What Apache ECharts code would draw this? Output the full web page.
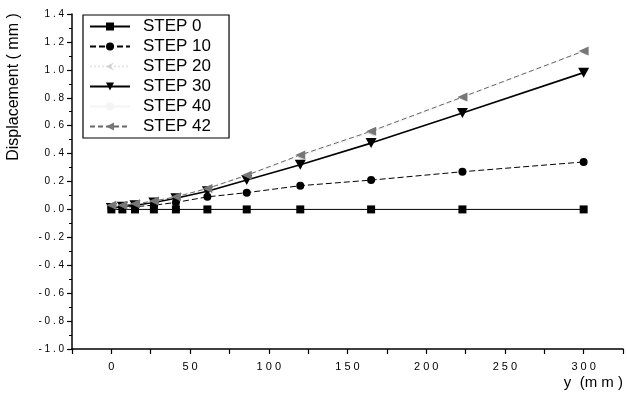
<!DOCTYPE html>
<html><head><meta charset="utf-8">
<script src="https://cdn.jsdelivr.net/npm/echarts@6/dist/echarts.min.js"></script>
<style>html,body{margin:0;padding:0;background:#fff}#c{width:627px;height:399px}</style>
</head><body><div id="c"></div>
<script>
const yPos = [0, 7, 15, 27, 41, 61, 86, 120, 165, 223, 300];
const step0 = [0, 0, 0, 0, 0, 0, 0, 0, 0, 0, 0];
const step10 = [0.01, 0.015, 0.02, 0.03, 0.05, 0.09, 0.12, 0.17, 0.21, 0.27, 0.34];
const step20 = [0.03, 0.03, 0.04, 0.06, 0.09, 0.15, 0.24, 0.38, 0.55, 0.8, 1.13];
const step30 = [0.01, 0.02, 0.03, 0.05, 0.08, 0.13, 0.21, 0.32, 0.475, 0.69, 0.98];
const step40 = [0.03, 0.03, 0.04, 0.06, 0.09, 0.15, 0.245, 0.385, 0.56, 0.805, 1.135];
const step42 = [0.03, 0.03, 0.04, 0.06, 0.09, 0.15, 0.245, 0.39, 0.56, 0.805, 1.135];
const seriesNames = ['STEP 0', 'STEP 10', 'STEP 20', 'STEP 30', 'STEP 40', 'STEP 42'];

const pair = arr => yPos.map((x, i) => [x, arr[i]]);
const font = 'Liberation Sans, Arial, sans-serif';
const chart = echarts.init(document.getElementById('c'), null, {renderer: 'canvas'});
chart.setOption({
  animation: false,
  backgroundColor: '#fff',
  grid: {left: 72, right: 4, top: 14, bottom: 50, containLabel: false},
  legend: {
    orient: 'vertical', left: 83, top: 15, itemWidth: 40, itemHeight: 10, itemGap: 3,
    borderColor: '#000', borderWidth: 1.2, padding: [3, 18, 3, 6],
    textStyle: {fontFamily: font, fontSize: 17, color: '#000', padding: [0, 0, 0, 8]},
    data: seriesNames
  },
  xAxis: {
    type: 'value', min: -25, max: 325, interval: 25,
    axisLine: {onZero: false, lineStyle: {color: '#000', width: 1.5}},
    axisTick: {length: 5, lineStyle: {color: '#000', width: 1.2}},
    axisLabel: {color: '#000', fontFamily: font, fontSize: 11, margin: 12,
      formatter: v => (v % 50 === 0 && v >= 0 && v <= 300) ? String(v).split('').join(' ') : ''},
    splitLine: {show: false}
  },
  yAxis: {
    type: 'value', min: -1, max: 1.4, interval: 0.2,
    axisLine: {show: true, onZero: false, lineStyle: {color: '#000', width: 1.5}},
    axisTick: {show: true, length: 5, lineStyle: {color: '#000', width: 1.2}},
    minorTick: {show: true, splitNumber: 2, length: 3, lineStyle: {color: '#000'}},
    axisLabel: {color: '#000', fontFamily: font, fontSize: 10, margin: 8,
      formatter: v => v.toFixed(1).split('').join(' ')},
    splitLine: {show: false}
  },
  graphic: [
    {type: 'text', x: 14, y: 87, rotation: Math.PI / 2,
      style: {text: 'Displacement ( mm )', fontFamily: font, fontSize: 16, fill: '#000', align: 'center', verticalAlign: 'middle'}},
    {type: 'text', x: 623, y: 383,
      style: {text: 'y  (m m )', fontFamily: font, fontSize: 15, fill: '#000', align: 'right', verticalAlign: 'middle'}}
  ],
  series: [
    {name: 'STEP 0', type: 'line', data: pair(step0), symbol: 'rect', symbolSize: 8,
      itemStyle: {color: '#000'}, lineStyle: {color: '#000', width: 1}},
    {name: 'STEP 10', type: 'line', data: pair(step10), symbol: 'circle', symbolSize: 8,
      itemStyle: {color: '#000'}, lineStyle: {color: '#000', width: 1, type: [6, 3]}},
    {name: 'STEP 20', type: 'line', data: pair(step20), symbol: 'path://M0,5 L10,0 L6,5 L10,10 Z', symbolSize: 8,
      itemStyle: {color: '#cfcfcf'}, lineStyle: {color: '#e6e6e6', width: 1, type: 'dotted'}},
    {name: 'STEP 30', type: 'line', data: pair(step30), symbol: 'path://M0,0 L10,0 L5,9 Z', symbolSize: [11, 10],
      itemStyle: {color: '#000'}, lineStyle: {color: '#000', width: 1.6}},
    {name: 'STEP 40', type: 'line', data: pair(step40), symbol: 'none',
      itemStyle: {color: '#f4f4f4'}, lineStyle: {color: '#f4f4f4', width: 1}},
    {name: 'STEP 42', type: 'line', data: pair(step42), symbol: 'path://M0,5 L10,0 L10,10 Z', symbolSize: [10, 9],
      itemStyle: {color: '#777'}, lineStyle: {color: '#666', width: 1, type: [5, 3]}}
  ]
});
</script></body></html>
